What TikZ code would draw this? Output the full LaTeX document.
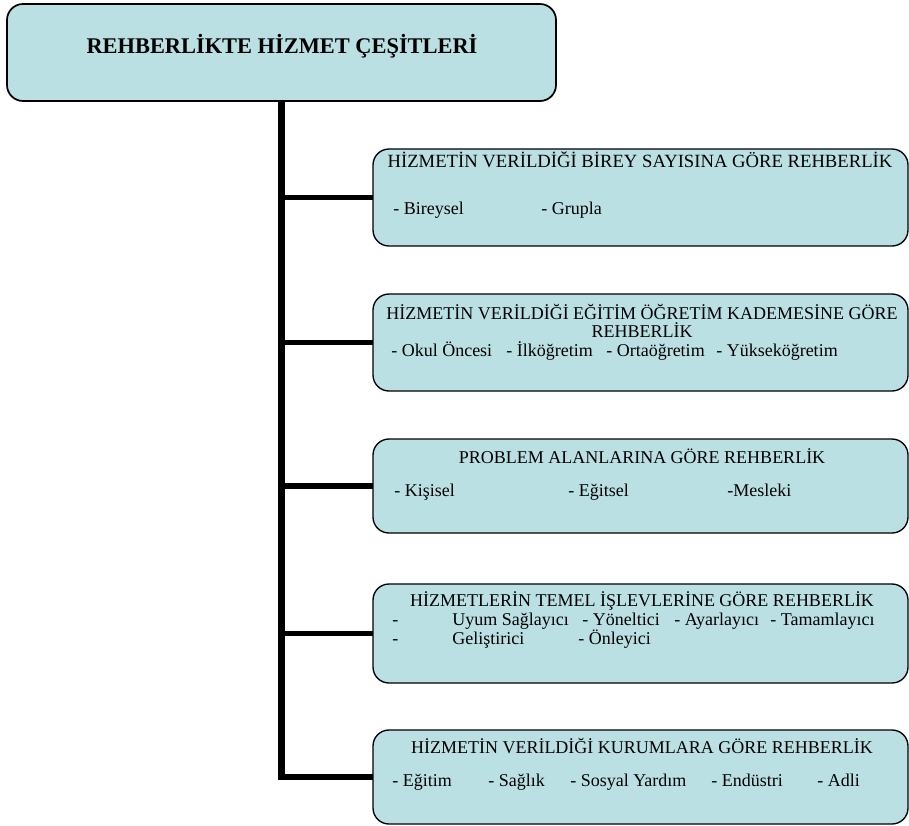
\documentclass[tikz,border=0pt]{standalone}
\usepackage{fontspec}
\setmainfont{Liberation Serif}
\usetikzlibrary{fit}
\definecolor{boxfill}{RGB}{186,224,228}
\begin{document}
\begin{tikzpicture}[x=0.75pt,y=-0.75pt,
  panel/.style={draw=black, line width=1pt, fill=boxfill, rounded corners=12pt, inner sep=0pt, outer sep=0pt},
  ttl/.style={font=\fontsize{13.5}{16}\selectfont, inner sep=0pt, anchor=mid},
  itm/.style={font=\fontsize{13.5}{16}\selectfont, inner sep=0pt, anchor=mid west},
  trunk/.style={line width=4.6pt, line join=miter, line cap=butt},
  branch/.style={line width=4pt, line cap=butt},
]
\useasboundingbox (0,0) rectangle (909,825);

% boxes
\node[panel, line width=1.3pt, fit={(7,4) (556,101)}] (top) {};
\node[panel, fit={(373,149) (908,246)}] (b1) {};
\node[panel, fit={(373,294) (908,391)}] (b2) {};
\node[panel, fit={(373,439) (908,533)}] (b3) {};
\node[panel, fit={(373,584) (908,683)}] (b4) {};
\node[panel, fit={(373,730) (908,824)}] (b5) {};

% connectors
\draw[trunk] (top.south) |- (b5.west);
\foreach \b in {b1,b2,b3,b4}{
  \draw[branch] (top.south |- \b.west) -- (\b.west);
}

% top title
\node[font=\fontsize{16.8}{19}\selectfont\bfseries, inner sep=0pt, anchor=mid] (t0) at (282,50) {REHBERLİKTE HİZMET ÇEŞİTLERİ};

% box 1
\node[ttl, font=\fontsize{14}{16}\selectfont] (t1) at (640,164) {HİZMETİN VERİLDİĞİ BİREY SAYISINA GÖRE REHBERLİK};
\node[itm] (i11) at (393,211) {- Bireysel};
\node[itm] (i12) at (541,211) {- Grupla};

% box 2
\node[ttl] (t2a) at (642,316) {HİZMETİN VERİLDİĞİ EĞİTİM ÖĞRETİM KADEMESİNE GÖRE};
\node[ttl] (t2b) at (642,334) {REHBERLİK};
\node[itm] (i21) at (391,353) {- Okul Öncesi};
\node[itm] (i22) at (506,353) {- İlköğretim};
\node[itm] (i23) at (606,353) {- Ortaöğretim};
\node[itm] (i24) at (716,353) {- Yükseköğretim};

% box 3
\node[ttl] (t3) at (642,460) {PROBLEM ALANLARINA GÖRE REHBERLİK};
\node[itm] (i31) at (394,493) {- Kişisel};
\node[itm] (i32) at (568,493) {- Eğitsel};
\node[itm] (i33) at (727,493) {-Mesleki};

% box 4
\node[ttl] (t4) at (642,603) {HİZMETLERİN TEMEL İŞLEVLERİNE GÖRE REHBERLİK};
\node[itm] (i41) at (392,622) {-};
\node[itm] (i42) at (452,622) {Uyum Sağlayıcı};
\node[itm] (i43) at (582,622) {- Yöneltici};
\node[itm] (i44) at (674,622) {- Ayarlayıcı};
\node[itm] (i45) at (770,622) {- Tamamlayıcı};
\node[itm] (i46) at (392,641) {-};
\node[itm] (i47) at (452,641) {Geliştirici};
\node[itm] (i48) at (578,641) {- Önleyici};

% box 5
\node[ttl] (t5) at (642,750) {HİZMETİN VERİLDİĞİ KURUMLARA GÖRE REHBERLİK};
\node[itm] (i51) at (392,783) {- Eğitim};
\node[itm] (i52) at (488,783) {- Sağlık};
\node[itm] (i53) at (570,783) {- Sosyal Yardım};
\node[itm] (i54) at (711,783) {- Endüstri};
\node[itm] (i55) at (817,783) {- Adli};
\end{tikzpicture}
\end{document}
